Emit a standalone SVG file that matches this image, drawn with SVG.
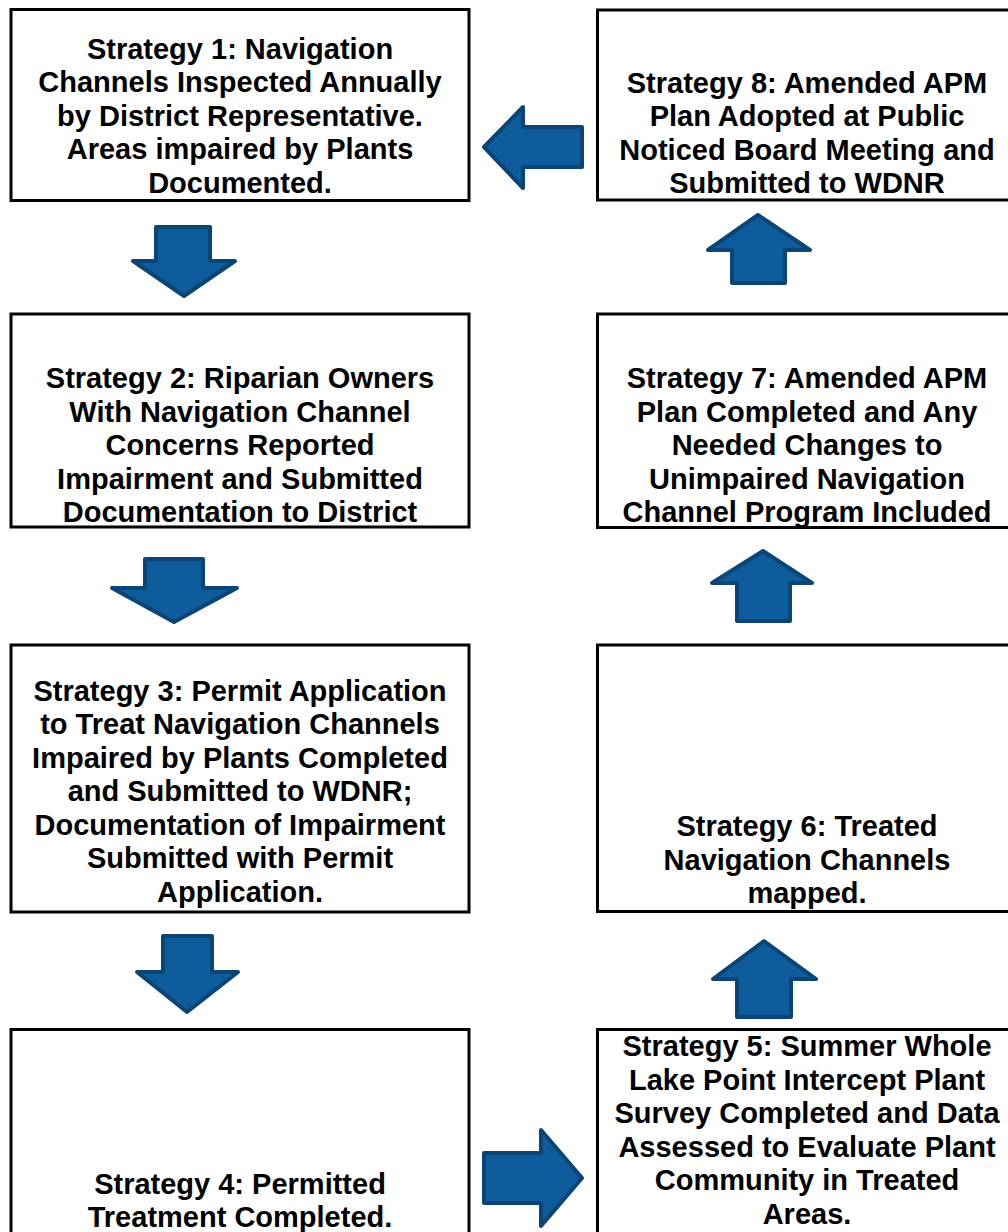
<svg xmlns="http://www.w3.org/2000/svg" width="1008" height="1232" viewBox="0 0 1008 1232">
<style>
.box{fill:#fff;stroke:#000;stroke-width:3}
.t{font-family:"Liberation Sans",Arial,sans-serif;font-weight:bold;font-size:29px;fill:#000;text-anchor:middle}
.arr{fill:#0e5c9b;stroke:#0b4575;stroke-width:4;stroke-linejoin:round}
</style>
<rect width="1008" height="1232" fill="#fff"/>
<g id="s1">
<rect class="box" x="11" y="9.5" width="458" height="191"/>
<text class="t" x="240"><tspan x="240" y="58.5">Strategy 1: Navigation</tspan><tspan x="240" y="92">Channels Inspected Annually</tspan><tspan x="240" y="125.5">by District Representative.</tspan><tspan x="240" y="159">Areas impaired by Plants</tspan><tspan x="240" y="192.5">Documented.</tspan></text>
</g>
<g id="s2">
<rect class="box" x="11" y="314" width="458" height="213"/>
<text class="t"><tspan x="240" y="388">Strategy 2: Riparian Owners</tspan><tspan x="240" y="421.5">With Navigation Channel</tspan><tspan x="240" y="455">Concerns Reported</tspan><tspan x="240" y="488.5">Impairment and Submitted</tspan><tspan x="240" y="522">Documentation to District</tspan></text>
</g>
<g id="s3">
<rect class="box" x="11" y="645" width="458" height="267"/>
<text class="t"><tspan x="240" y="700.5">Strategy 3: Permit Application</tspan><tspan x="240" y="734">to Treat Navigation Channels</tspan><tspan x="240" y="767.5">Impaired by Plants Completed</tspan><tspan x="240" y="801">and Submitted to WDNR;</tspan><tspan x="240" y="834.5">Documentation of Impairment</tspan><tspan x="240" y="868">Submitted with Permit</tspan><tspan x="240" y="901.5">Application.</tspan></text>
</g>
<g id="s4">
<rect class="box" x="11" y="1029.5" width="458" height="280"/>
<text class="t"><tspan x="240" y="1193.5">Strategy 4: Permitted</tspan><tspan x="240" y="1227">Treatment Completed.</tspan></text>
</g>
<g id="s5">
<rect class="box" x="597.5" y="1029.5" width="420" height="280"/>
<text class="t"><tspan x="807" y="1056">Strategy 5: Summer Whole</tspan><tspan x="807" y="1089.6">Lake Point Intercept Plant</tspan><tspan x="807" y="1123.2">Survey Completed and Data</tspan><tspan x="807" y="1156.8">Assessed to Evaluate Plant</tspan><tspan x="807" y="1190.4">Community in Treated</tspan><tspan x="807" y="1224">Areas.</tspan></text>
</g>
<g id="s6">
<rect class="box" x="597.5" y="645" width="420" height="266.5"/>
<text class="t"><tspan x="807" y="836">Strategy 6: Treated</tspan><tspan x="807" y="869.5">Navigation Channels</tspan><tspan x="807" y="903">mapped.</tspan></text>
</g>
<g id="s7">
<rect class="box" x="597.5" y="314" width="420" height="213.5"/>
<text class="t"><tspan x="807" y="388">Strategy 7: Amended APM</tspan><tspan x="807" y="421.5">Plan Completed and Any</tspan><tspan x="807" y="455">Needed Changes to</tspan><tspan x="807" y="488.5">Unimpaired Navigation</tspan><tspan x="807" y="522">Channel Program Included</tspan></text>
</g>
<g id="s8">
<rect class="box" x="597.5" y="10" width="420" height="190"/>
<text class="t"><tspan x="807" y="92.5">Strategy 8: Amended APM</tspan><tspan x="807" y="126">Plan Adopted at Public</tspan><tspan x="807" y="159.5">Noticed Board Meeting and</tspan><tspan x="807" y="193">Submitted to WDNR</tspan></text>
</g>
<g id="connectors">
<path class="arr" d="M156,227 L210,227 L210,261 L235,261 L184,296 L133,261 L156,261 Z"/>
<path class="arr" d="M145,559 L203,559 L203,588 L237,588 L174,622 L112,588 L145,588 Z"/>
<path class="arr" d="M163,936 L212,936 L212,972 L238,972 L187,1012 L137,972 L163,972 Z"/>
<path class="arr" d="M484,1153 L541,1153 L541,1130 L582,1178 L541,1226 L541,1203 L484,1203 Z"/>
<path class="arr" d="M764,941 L816,979 L791,979 L791,1017 L737,1017 L737,979 L713,979 Z"/>
<path class="arr" d="M763,551 L812,583 L790,583 L790,621 L737,621 L737,583 L712,583 Z"/>
<path class="arr" d="M758,215 L810,250 L785,250 L785,283 L732,283 L732,250 L708,250 Z"/>
<path class="arr" d="M484,147 L523,107 L523,127 L582,127 L582,167 L523,167 L523,188 Z"/>
</g>
</svg>
